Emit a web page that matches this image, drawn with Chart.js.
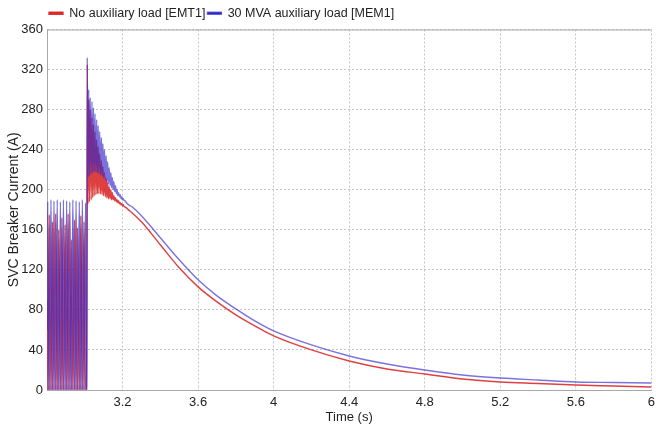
<!DOCTYPE html>
<html>
<head>
<meta charset="utf-8">
<script src="https://cdn.jsdelivr.net/npm/chart.js@4.4.0/dist/chart.umd.min.js"></script>
<style>
  html, body { margin: 0; padding: 0; background: #fff; overflow: hidden; }
  #wrap { position: relative; width: 660px; height: 425px; }
</style>
</head>
<body>
<div id="wrap"><canvas id="graficoCorrente"></canvas></div>
<script>
// valores (tempo em s, corrente em A)
const tRed = [2.800, 2.806, 2.812, 2.821, 2.829, 2.837, 2.846, 2.854, 2.862, 2.871, 2.879, 2.887, 2.896, 2.904,
  2.912, 2.921, 2.929, 2.937, 2.946, 2.954, 2.962, 2.971, 2.979, 2.987, 2.996, 3.004, 3.011,
  3.013, 3.017, 3.021, 3.025, 3.029, 3.034, 3.038, 3.042, 3.046, 3.050, 3.054, 3.059, 3.063, 3.067,
  3.071, 3.075, 3.079, 3.084, 3.088, 3.092, 3.096, 3.100, 3.104, 3.109, 3.113, 3.117, 3.121, 3.125,
  3.129, 3.134, 3.138, 3.142, 3.146, 3.150, 3.154, 3.159, 3.163, 3.167, 3.171, 3.175, 3.179, 3.184,
  3.188, 3.192, 3.196, 3.200, 3.204, 3.209, 3.213, 3.217, 3.221, 3.225,
  3.25, 3.3, 3.4, 3.5, 3.6, 3.7, 3.8, 3.9, 4.0, 4.2, 4.4, 4.6, 4.8, 5.0, 5.2, 5.4, 5.6, 5.8, 6.0];
const redAmps = [90, 0, 175, 0, 168, 0, 176, 0, 160, 0, 172, 0, 165, 0,
  176, 0, 150, 0, 170, 0, 162, 0, 174, 0, 168, 0, 0,
  325, 186, 290, 188, 280, 190, 272, 192, 265, 194, 258, 195, 250, 196,
  243, 196, 236, 196, 229, 195, 223, 194, 217, 193, 212, 192, 207, 191,
  203, 191, 200, 190, 197, 190, 194, 189, 192, 188, 190, 187, 189, 186,
  187, 185, 186, 184, 185, 183, 183, 182, 182, 181,
  177, 168, 145, 122, 103, 88, 75, 64, 54, 40, 29, 21, 16, 11, 8, 6.5, 5, 4, 3];

const tBlue = [2.800, 2.804, 2.812, 2.821, 2.829, 2.837, 2.846, 2.854, 2.862, 2.871, 2.879, 2.887, 2.896, 2.904,
  2.912, 2.921, 2.929, 2.937, 2.946, 2.954, 2.962, 2.971, 2.979, 2.987, 2.996, 3.004, 3.011,
  3.013, 3.017, 3.021, 3.025, 3.029, 3.034, 3.038, 3.042, 3.046, 3.050, 3.054, 3.059, 3.063, 3.067,
  3.071, 3.075, 3.079, 3.084, 3.088, 3.092, 3.096, 3.100, 3.104, 3.109, 3.113, 3.117, 3.121, 3.125,
  3.129, 3.134, 3.138, 3.142, 3.146, 3.150, 3.154, 3.159, 3.163, 3.167, 3.171, 3.175, 3.179, 3.184,
  3.188, 3.192, 3.196, 3.200, 3.204, 3.209, 3.213, 3.217, 3.221, 3.225,
  3.25, 3.3, 3.4, 3.5, 3.6, 3.7, 3.8, 3.9, 4.0, 4.2, 4.4, 4.6, 4.8, 5.0, 5.2, 5.4, 5.6, 5.8, 6.0];
const blueAmps = [60, 188, 0, 190, 0, 189, 0, 190, 0, 188, 0, 190, 0, 189,
  0, 188, 0, 190, 0, 189, 0, 188, 0, 190, 0, 187, 0,
  332, 212, 300, 214, 292, 216, 288, 217, 282, 218, 276, 218, 270, 217,
  264, 216, 258, 215, 252, 214, 246, 212, 240, 210, 234, 208, 228, 206,
  222, 204, 217, 202, 212, 200, 208, 198, 204, 196, 200, 194, 197, 193,
  195, 191, 193, 190, 191, 189, 189, 188, 187, 186,
  183, 174, 152, 130, 110, 94, 81, 69, 59, 45, 34, 26, 20, 15, 12, 10, 8, 7.5, 7];

const fimPreFalta = 3.011;
const xTicks = [2.8, 3.2, 3.6, 4, 4.4, 4.8, 5.2, 5.6, 6];
const yTicks = [0, 40, 80, 120, 160, 200, 240, 280, 320, 360];

const toPoints = (ts, vs) => ts.map((t, i) => ({ x: t, y: vs[i] }));

// sombreado só na parte antes do chaveamento
const sombra = cor => ctx => (ctx.p1.parsed.x <= fimPreFalta ? cor : 'rgba(0,0,0,0)');

// linha sólida no topo da área do gráfico
const bordaTopo = {
  id: 'bordaTopo',
  beforeDatasetsDraw(chart) {
    const { ctx, chartArea } = chart;
    ctx.save();
    ctx.strokeStyle = '#a8a8a8';
    ctx.lineWidth = 1;
    ctx.beginPath();
    ctx.moveTo(chartArea.left, chartArea.top + 0.5);
    ctx.lineTo(chartArea.right, chartArea.top + 0.5);
    ctx.stroke();
    ctx.restore();
  }
};

const fonte = { family: '"Liberation Sans", Arial, sans-serif', size: 13 };

new Chart(document.getElementById('graficoCorrente'), {
  type: 'line',
  data: {
    datasets: [
      {
        label: 'No auxiliary load [EMT1]',
        data: toPoints(tRed, redAmps),
        borderColor: 'rgba(215, 30, 30, 0.85)',
        backgroundColor: '#e03030',
        borderWidth: 1.4,
        pointRadius: 0,
        fill: 'origin',
        segment: { backgroundColor: sombra('rgba(175, 70, 150, 0.3)') },
        cubicInterpolationMode: 'monotone',
        order: 2
      },
      {
        label: '30 MVA auxiliary load [MEM1]',
        data: toPoints(tBlue, blueAmps),
        borderColor: 'rgba(50, 40, 200, 0.65)',
        backgroundColor: '#2a2ad0',
        borderWidth: 1.4,
        pointRadius: 0,
        fill: 'origin',
        segment: { backgroundColor: sombra('rgba(120, 70, 180, 0.3)') },
        cubicInterpolationMode: 'monotone',
        order: 1
      }
    ]
  },
  options: {
    responsive: true,
    maintainAspectRatio: false,
    animation: false,
    layout: { padding: { top: 5, right: 0, bottom: 0, left: 0 } },
    plugins: {
      tooltip: { enabled: false },
      legend: {
        position: 'top',
        align: 'start',
        fullSize: false,
        labels: {
          boxWidth: 14,
          boxHeight: 2,
          padding: 2,
          color: '#222',
          font: { family: fonte.family, size: 12.5 },
          sort: (a, b) => a.datasetIndex - b.datasetIndex
        }
      }
    },
    scales: {
      x: {
        type: 'linear',
        min: 2.8,
        max: 6,
        afterBuildTicks: s => { s.ticks = xTicks.map(v => ({ value: v })); },
        afterFit: s => { s.height = 35; },
        ticks: {
          color: '#222',
          font: fonte,
          padding: 5,
          maxRotation: 0,
          autoSkip: false,
          callback: v => (v === 2.8 ? '' : String(v))
        },
        grid: { color: '#c4c4c4', drawTicks: false },
        border: { color: '#a8a8a8', dash: [2, 2] },
        title: { display: true, text: 'Time (s)', color: '#222', font: fonte, padding: { top: 0, bottom: 0 } }
      },
      y: {
        min: 0,
        max: 360,
        afterBuildTicks: s => { s.ticks = yTicks.map(v => ({ value: v })); },
        afterFit: s => { s.width = 47; },
        ticks: { color: '#222', font: fonte, padding: 4 },
        grid: { color: '#c4c4c4', drawTicks: false },
        border: { color: '#a8a8a8', dash: [2, 2] },
        title: { display: true, text: 'SVC Breaker Current (A)', color: '#222', font: { family: fonte.family, size: 14 }, padding: { top: 6, bottom: 2 } }
      }
    }
  },
  plugins: [bordaTopo]
});
</script>
</body>
</html>
